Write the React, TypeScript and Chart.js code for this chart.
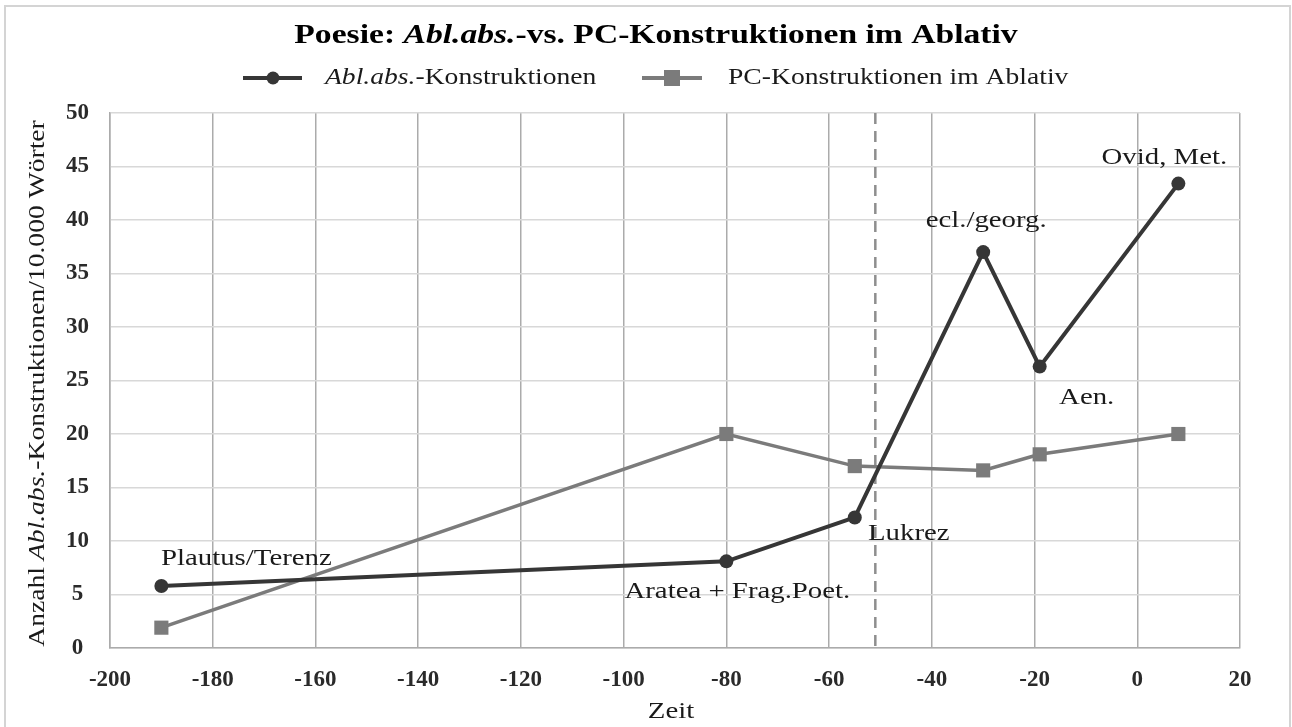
import React, { useEffect, useRef } from 'react';
import { Chart, registerables } from 'chart.js';

Chart.register(...registerables);

// ---- data ----
const years = [-190, -80, -55, -30, -19, 8];
const ablAbsValues = [5.8, 8.1, 12.2, 37.0, 26.3, 43.4];
const pcValues = [1.9, 20.0, 17.0, 16.6, 18.1, 20.0];
const pointLabels = ['Plautus/Terenz', 'Aratea + Frag.Poet.', 'Lukrez', 'ecl./georg.', 'Aen.', 'Ovid, Met.'];
const xTickValues = [-200, -180, -160, -140, -120, -100, -80, -60, -40, -20, 0, 20];
const yTickValues = [0, 5, 10, 15, 20, 25, 30, 35, 40, 45, 50];
const dividerYear = -51;

const seriesNames = ['Abl.abs.-Konstruktionen', 'PC-Konstruktionen im Ablativ'];

// ---- styles ----
const SERIF = "'Liberation Serif', 'Times New Roman', serif";
const STRETCH = 1.2;
const DARK = '#363636';
const GRAY = '#7b7b7b';
// label offsets relative to point (dx, dy to baseline), centered
const labelOffsets: [number, number][] = [
  [85, -21],
  [11, 37],
  [54, 23],
  [3, -25],
  [47, 37],
  [-14, -20],
];

type Part = { text: string; font: string };

function drawParts(ctx: CanvasRenderingContext2D, parts: Part[], x: number, y: number, align: 'left' | 'center', color: string) {
  ctx.save();
  ctx.fillStyle = color;
  ctx.textBaseline = 'alphabetic';
  ctx.textAlign = 'left';
  let total = 0;
  const widths = parts.map((p) => {
    ctx.font = p.font;
    const w = ctx.measureText(p.text).width;
    total += w;
    return w;
  });
  const start = align === 'center' ? x - (total * STRETCH) / 2 : x;
  ctx.translate(start, y);
  ctx.scale(STRETCH, 1);
  let cx = 0;
  parts.forEach((p, i) => {
    ctx.font = p.font;
    ctx.fillText(p.text, cx, 0);
    cx += widths[i];
  });
  ctx.restore();
}

const decorPlugin = {
  id: 'decor',
  beforeDraw(chart: any) {
    const ctx = chart.ctx as CanvasRenderingContext2D;
    ctx.save();
    ctx.fillStyle = '#ffffff';
    ctx.fillRect(0, 0, chart.width, chart.height);
    ctx.strokeStyle = '#d4d4d4';
    ctx.lineWidth = 2;
    ctx.strokeRect(5, 6, 1285, 730);
    ctx.restore();
  },
  beforeDatasetsDraw(chart: any) {
    const ctx = chart.ctx as CanvasRenderingContext2D;
    const xs = chart.scales.x;
    const area = chart.chartArea;
    const px = xs.getPixelForValue(dividerYear);
    ctx.save();
    ctx.strokeStyle = '#8e8e8e';
    ctx.lineWidth = 2.5;
    ctx.setLineDash([11, 7]);
    ctx.beginPath();
    ctx.moveTo(px, area.top);
    ctx.lineTo(px, area.bottom);
    ctx.stroke();
    ctx.restore();
  },
  afterDraw(chart: any) {
    const ctx = chart.ctx as CanvasRenderingContext2D;
    const area = chart.chartArea;
    const xs = chart.scales.x;
    const ys = chart.scales.y;

    // title
    drawParts(
      ctx,
      [
        { text: 'Poesie: ', font: `bold 28px ${SERIF}` },
        { text: 'Abl.abs.', font: `italic bold 28px ${SERIF}` },
        { text: '-vs. PC-Konstruktionen im Ablativ', font: `bold 28px ${SERIF}` },
      ],
      656,
      43,
      'center',
      '#000000'
    );

    // legend
    ctx.save();
    ctx.lineWidth = 4;
    ctx.strokeStyle = DARK;
    ctx.beginPath();
    ctx.moveTo(243, 78);
    ctx.lineTo(302, 78);
    ctx.stroke();
    ctx.fillStyle = DARK;
    ctx.beginPath();
    ctx.arc(273, 78, 6.5, 0, Math.PI * 2);
    ctx.fill();
    ctx.strokeStyle = GRAY;
    ctx.beginPath();
    ctx.moveTo(642, 78);
    ctx.lineTo(702, 78);
    ctx.stroke();
    ctx.fillStyle = GRAY;
    ctx.fillRect(664, 70, 16, 16);
    ctx.restore();
    drawParts(
      ctx,
      [
        { text: 'Abl.abs.', font: `italic 23px ${SERIF}` },
        { text: '-Konstruktionen', font: `23px ${SERIF}` },
      ],
      325,
      84,
      'left',
      '#1a1a1a'
    );
    drawParts(ctx, [{ text: seriesNames[1], font: `23px ${SERIF}` }], 728, 84, 'left', '#1a1a1a');

    // x axis title
    drawParts(ctx, [{ text: 'Zeit', font: `24px ${SERIF}` }], (area.left + area.right) / 2 - 4, 718, 'center', '#1a1a1a');

    // y axis title
    ctx.save();
    ctx.translate(44, (area.top + area.bottom) / 2 + 3);
    ctx.rotate(-Math.PI / 2);
    drawParts(
      ctx,
      [
        { text: 'Anzahl ', font: `23px ${SERIF}` },
        { text: 'Abl.abs.', font: `italic 23px ${SERIF}` },
        { text: '-Konstruktionen/10.000 Wörter', font: `23px ${SERIF}` },
      ],
      0,
      0,
      'center',
      '#1a1a1a'
    );
    ctx.restore();

    // data labels
    years.forEach((yr, i) => {
      const px = xs.getPixelForValue(yr);
      const py = ys.getPixelForValue(ablAbsValues[i]);
      const [dx, dy] = labelOffsets[i];
      drawParts(ctx, [{ text: pointLabels[i], font: `24px ${SERIF}` }], px + dx, py + dy, 'center', '#1a1a1a');
    });
  },
};

export default function App() {
  const ref = useRef<HTMLCanvasElement | null>(null);
  useEffect(() => {
    document.body.style.margin = '0';
    const canvas = ref.current;
    if (!canvas) return;
    const chart = new Chart(canvas, {
      type: 'line',
      data: {
        datasets: [
          {
            label: seriesNames[0],
            data: years.map((x, i) => ({ x, y: ablAbsValues[i] })),
            borderColor: DARK,
            backgroundColor: DARK,
            borderWidth: 4,
            pointStyle: 'circle',
            pointRadius: 7,
            pointBorderWidth: 0,
            tension: 0,
          },
          {
            label: seriesNames[1],
            data: years.map((x, i) => ({ x, y: pcValues[i] })),
            borderColor: GRAY,
            backgroundColor: GRAY,
            borderWidth: 3.5,
            pointStyle: 'rect',
            pointRadius: 10,
            pointBorderWidth: 0,
            tension: 0,
          },
        ],
      },
      options: {
        animation: false,
        responsive: false,
        maintainAspectRatio: false,
        layout: { padding: { top: 113, left: 0, right: 52, bottom: 0 } },
        plugins: {
          legend: { display: false },
          title: { display: false },
          tooltip: { enabled: false },
        },
        scales: {
          x: {
            type: 'linear',
            min: xTickValues[0],
            max: xTickValues[xTickValues.length - 1],
            afterBuildTicks: (s: any) => {
              s.ticks = xTickValues.map((v) => ({ value: v }));
            },
            ticks: {
              callback: (v: any) => String(v),
              color: '#2a2a2a',
              font: { family: SERIF, size: 23, weight: 'bold' },
              padding: 18,
              maxRotation: 0,
              autoSkip: false,
            },
            grid: { color: '#ababab', lineWidth: 1.5, drawTicks: false },
            border: { display: true, color: '#ababab', width: 1.5 },
            afterFit: (s: any) => {
              s.height = 79;
            },
          },
          y: {
            type: 'linear',
            min: yTickValues[0],
            max: yTickValues[yTickValues.length - 1],
            afterBuildTicks: (s: any) => {
              s.ticks = yTickValues.map((v) => ({ value: v }));
            },
            ticks: {
              callback: (v: any) => String(v),
              color: '#2a2a2a',
              font: { family: SERIF, size: 23, weight: 'bold' },
              padding: 21,
              crossAlign: 'center',
              autoSkip: false,
            },
            grid: { color: '#d8d8d8', lineWidth: 1.5, drawTicks: false },
            border: { display: true, color: '#ababab', width: 1.5 },
            afterFit: (s: any) => {
              s.width = 110;
            },
          },
        },
      } as any,
      plugins: [decorPlugin],
    });
    return () => chart.destroy();
  }, []);
  return <canvas ref={ref} width={1292} height={727} style={{ display: 'block', width: 1292, height: 727 }} />;
}
